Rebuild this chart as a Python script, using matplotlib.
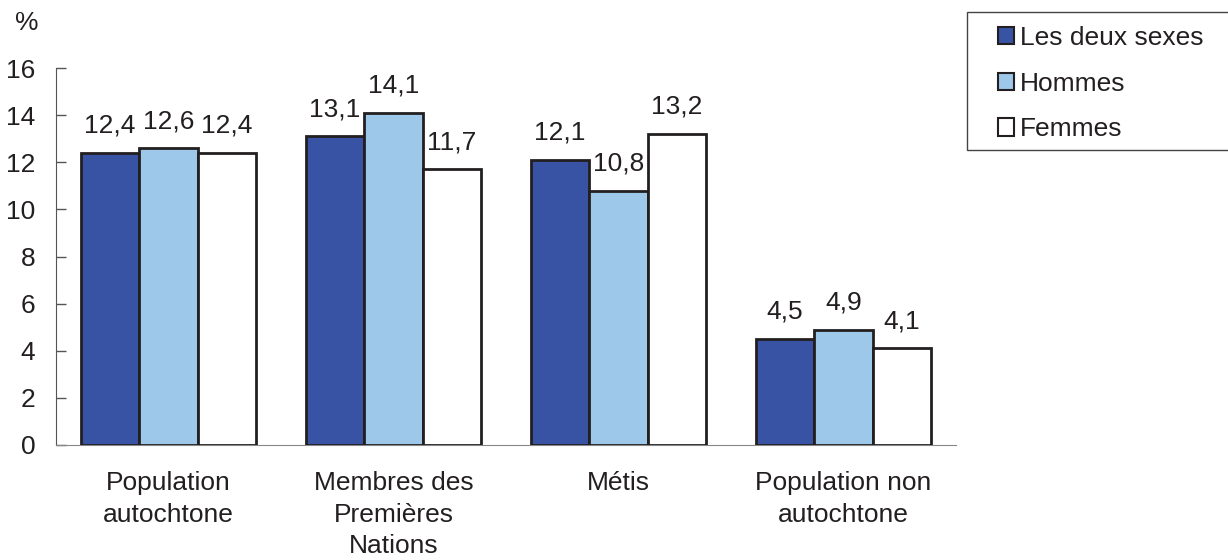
import matplotlib.pyplot as plt
from matplotlib.patches import Rectangle
import numpy as np

plt.rcParams['font.family'] = ['Liberation Sans', 'DejaVu Sans']

categories = ["Population\nautochtone", "Membres des\nPremières\nNations", "Métis",
              "Population non\nautochtone"]
series = ["Les deux sexes", "Hommes", "Femmes"]
both = [12.4, 13.1, 12.1, 4.5]
men = [12.6, 14.1, 10.8, 4.9]
women = [12.4, 11.7, 13.2, 4.1]
labels = [["12,4", "13,1", "12,1", "4,5"],
          ["12,6", "14,1", "10,8", "4,9"],
          ["12,4", "11,7", "13,2", "4,1"]]

colors = ["#3853a4", "#9dc8e9", "#ffffff"]
EDGE = "#231f20"
FS = 19

fig = plt.figure(figsize=(12.28, 5.6), dpi=100)
ax = fig.add_axes([0.0456, 0.2054, 0.733, 0.673])

x = np.arange(len(categories))
w = 0.26
for i, (vals, name) in enumerate(zip([both, men, women], series)):
    pos = x + (i - 1) * w
    ax.bar(pos, vals, w, color=colors[i], edgecolor=EDGE, linewidth=2, label=name, zorder=3)
    for xp, v, t in zip(pos, vals, labels[i]):
        ax.text(xp, v + 1.15, t, ha="center", va="center", fontsize=FS, color=EDGE)

ax.set_xlim(-0.5, 3.5)
ax.set_ylim(0, 16)
ax.set_yticks(range(0, 17, 2))
ax.tick_params(axis="y", direction="in", length=7, width=1, color="#555555",
               labelsize=FS, pad=15, labelcolor=EDGE)
ax.set_xticks(x)
ax.set_xticklabels(categories, fontsize=FS, color=EDGE, va="top", linespacing=1.38)
ax.tick_params(axis="x", length=0, pad=19)
for s in ["top", "right"]:
    ax.spines[s].set_visible(False)
ax.spines["left"].set_color("#555555")
ax.spines["bottom"].set_color("#888888")
ax.text(-0.032, 1.12, "%", transform=ax.transAxes, fontsize=FS, ha="center",
        va="center", color=EDGE)

# legend box (runs off the right edge like the original)
fig.patches.append(Rectangle((967 / 1228, 1 - 150 / 560), 0.3, 138 / 560,
                             transform=fig.transFigure, facecolor="white",
                             edgecolor="#444444", linewidth=1, zorder=0))
leg = fig.legend(loc="upper left", bbox_to_anchor=(998 / 1228, 1 - 26 / 560), fontsize=FS,
                 frameon=False, handlelength=0.62, handleheight=0.62, handletextpad=0.2,
                 labelspacing=0.82, borderpad=0, borderaxespad=0)
for h in leg.legend_handles:
    h.set_linewidth(1.5)
for t in leg.get_texts():
    t.set_color(EDGE)

fig.savefig("out.png", dpi=100)
